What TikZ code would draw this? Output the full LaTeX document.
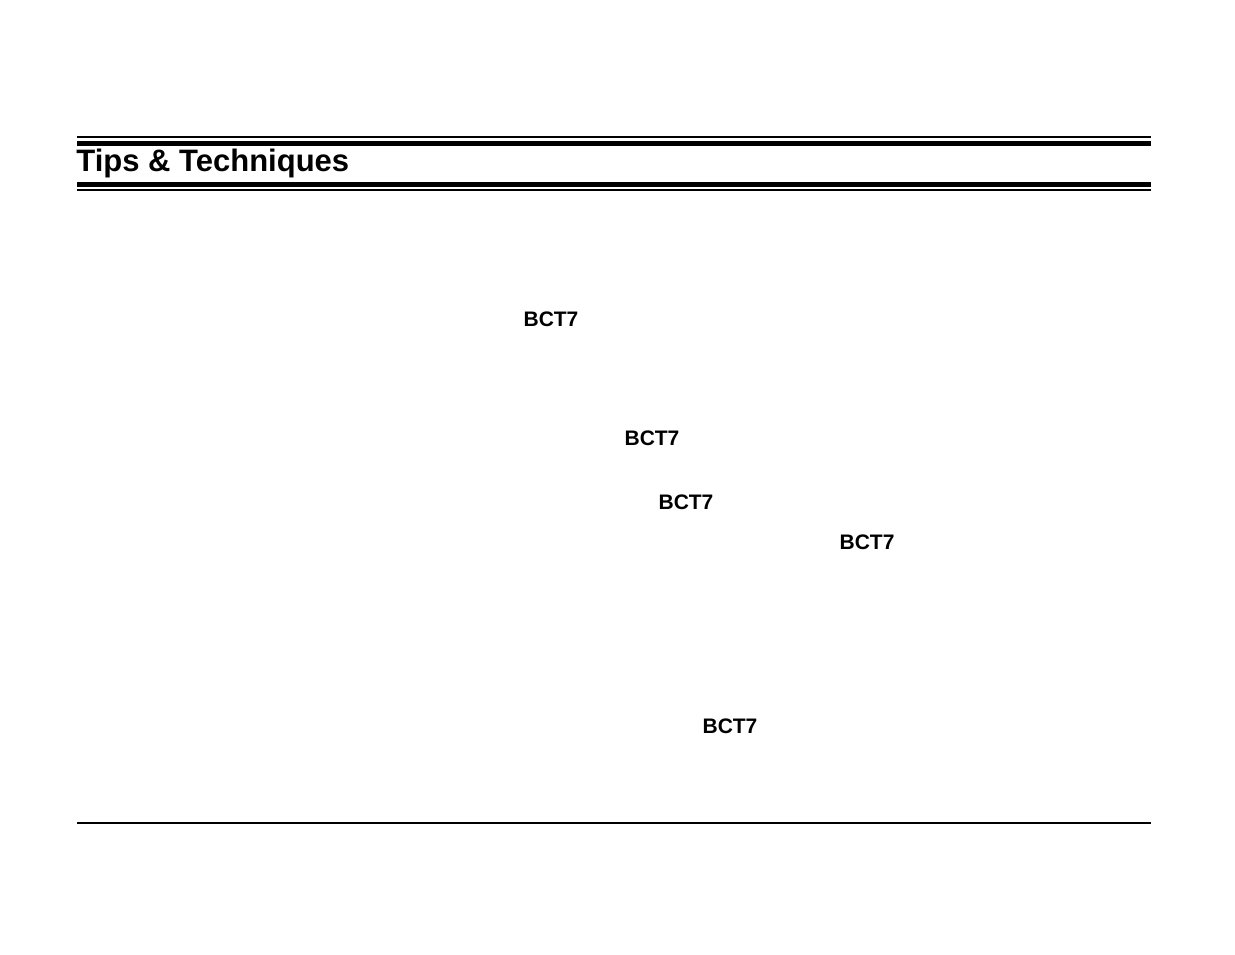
\documentclass[tikz,border=0pt]{standalone}
\usepackage{fontspec}
\setmainfont{Liberation Sans}
\begin{document}
\begin{tikzpicture}[x=0.5pt,y=-0.5pt,
    thinrule/.style={line width=1pt},
    thickrule/.style={line width=2.5pt},
    label/.style={font=\fontsize{10.5}{12}\selectfont\bfseries, inner sep=0pt}
]
\useasboundingbox (0,0) rectangle (1235,954);
% header rules
\draw[thinrule] (77,137) -- (1151,137);
\draw[thickrule] (77,143) -- (1151,143);
\draw[thickrule] (77,184.5) -- (1151,184.5);
\draw[thinrule] (77,189.5) -- (1151,189.5);
\node[anchor=west, inner sep=0pt, font=\fontsize{15.5}{18}\selectfont\bfseries] (title) at (76,163) {Tips \& Techniques};
% labels
\node[label] (bcta) at (551,319) {BCT7};
\node[label] (bctb) at (652,438) {BCT7};
\node[label] (bctc) at (686,502) {BCT7};
\node[label] (bctd) at (867,542) {BCT7};
\node[label] (bcte) at (730,726) {BCT7};
% footer rule
\draw[line width=0.6pt] (77,823) -- (1151,823);
\end{tikzpicture}
\end{document}
